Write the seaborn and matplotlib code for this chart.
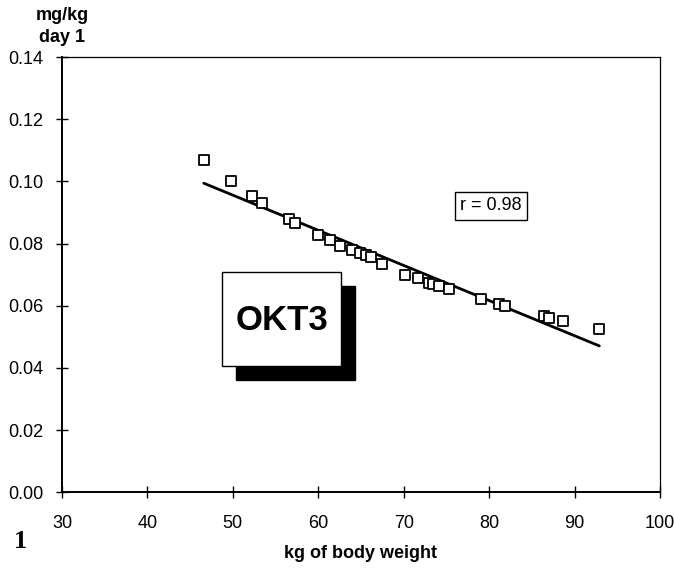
import matplotlib
matplotlib.use("Agg")
import matplotlib.pyplot as plt
from matplotlib.patches import Rectangle
import seaborn as sns
import pandas as pd

# Data
body_weight_kg = [46.6, 49.8, 52.2, 53.4, 56.6, 57.3, 60.0, 61.4, 62.6, 64.0,
                  64.9, 65.6, 66.2, 67.4, 70.2, 71.7, 73.0, 73.4, 74.1, 75.3,
                  79.0, 81.2, 81.9, 86.4, 87.0, 88.6, 92.9]
dose_mg_per_kg = [0.1069, 0.1000, 0.0953, 0.0932, 0.0879, 0.0865, 0.0826, 0.0810,
                  0.0792, 0.0779, 0.0771, 0.0763, 0.0756, 0.0734, 0.0700, 0.0689,
                  0.0673, 0.0670, 0.0665, 0.0654, 0.0622, 0.0604, 0.0598, 0.0566,
                  0.0562, 0.0552, 0.0524]
x_ticks = [30, 40, 50, 60, 70, 80, 90, 100]
y_ticks = [0.00, 0.02, 0.04, 0.06, 0.08, 0.10, 0.12, 0.14]
r_label = "r = 0.98"
drug_label = "OKT3"

df = pd.DataFrame({"weight": body_weight_kg, "dose": dose_mg_per_kg})

sns.set_style("white")
plt.rcParams["font.family"] = ["Liberation Sans", "DejaVu Sans"]
plt.rcParams["text.color"] = "black"
plt.rcParams["axes.labelcolor"] = "black"

fig = plt.figure(figsize=(6.74, 5.75), dpi=100)
ax = fig.add_axes([62 / 674, (575 - 492.3) / 575, 598 / 674, (492.3 - 57) / 575])

sns.regplot(data=df, x="weight", y="dose", ax=ax, ci=None, truncate=True,
            scatter=False, line_kws={"color": "black", "lw": 2.0, "zorder": 2})
sns.scatterplot(data=df, x="weight", y="dose", ax=ax, marker="s", s=60,
                facecolor="white", edgecolor="black", linewidth=1.3, zorder=3)

ax.set_xlim(30, 100)
ax.set_ylim(0, 0.14)
ax.set_xticks(x_ticks)
ax.set_xticklabels([str(t) for t in x_ticks])
ax.set_yticks(y_ticks)
ax.set_yticklabels([f"{t:.2f}" for t in y_ticks])
ax.tick_params(axis="both", which="major", bottom=True, left=True, top=False,
               right=False, direction="inout", length=9, width=1.0,
               labelsize=13, color="black", labelcolor="black", pad=9)
ax.tick_params(axis="x", pad=12)
for side in ["left", "bottom", "top", "right"]:
    ax.spines[side].set_visible(True)
    ax.spines[side].set_color("black")
ax.spines["left"].set_linewidth(1.4)
ax.spines["bottom"].set_linewidth(1.4)
ax.spines["top"].set_linewidth(0.9)
ax.spines["right"].set_linewidth(0.9)

ax.set_xlabel("kg of body weight", fontsize=13, fontweight="bold", labelpad=9,
              color="black")
ax.set_ylabel("")

fig.text(62 / 674, 1 - 15 / 575, "mg/kg", ha="center", va="center",
         fontsize=13, fontweight="bold")
fig.text(62 / 674, 1 - 37 / 575, "day 1", ha="center", va="center",
         fontsize=13, fontweight="bold")
fig.text(21 / 674, 1 - 541 / 575, "1", ha="center", va="center", fontsize=19,
         fontweight="bold", family=["Liberation Serif", "DejaVu Serif"])

# OKT3 box with shadow
fig.patches.append(Rectangle((236 / 674, (575 - 380) / 575), 119 / 674, 94 / 575,
                             transform=fig.transFigure, facecolor="black",
                             edgecolor="black", zorder=5))
fig.patches.append(Rectangle((222 / 674, (575 - 366) / 575), 119 / 674, 94 / 575,
                             transform=fig.transFigure, facecolor="white",
                             edgecolor="black", lw=1.0, zorder=6))
fig.text(282 / 674, 1 - 321 / 575, drug_label, ha="center", va="center",
         fontsize=25, fontweight="bold", zorder=7)

fig.text(491 / 674, 1 - 206 / 575, r_label, ha="center", va="center", fontsize=13,
         bbox=dict(boxstyle="square,pad=0.3", facecolor="white", edgecolor="black", lw=1.0))

fig.savefig("out.png", dpi=100, facecolor="white")
